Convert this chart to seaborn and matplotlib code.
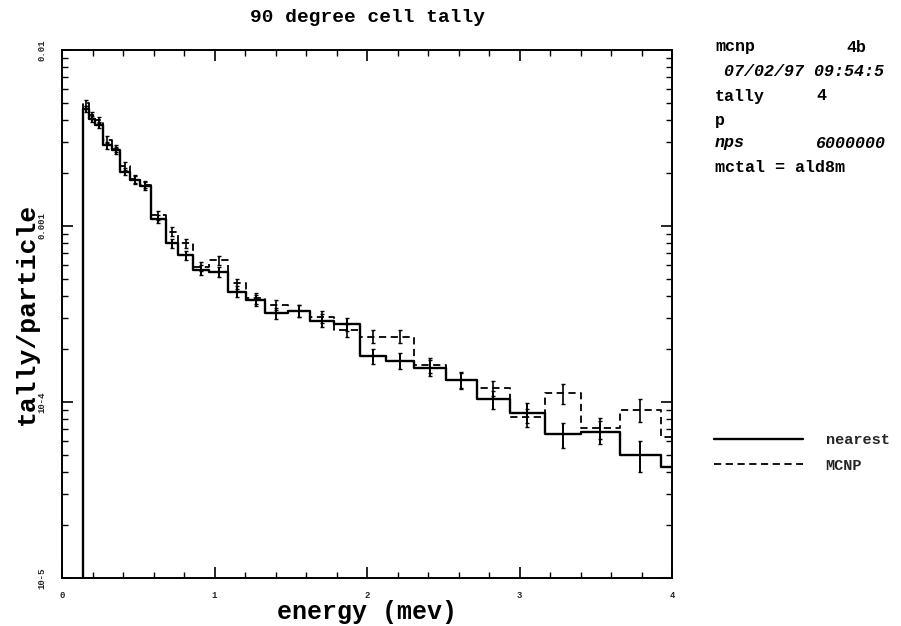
import numpy as np
import pandas as pd
import matplotlib
matplotlib.use("Agg")
import matplotlib.pyplot as plt
import seaborn as sns
from matplotlib.ticker import FixedLocator, FixedFormatter, LogLocator, MultipleLocator, NullFormatter

# ---------------- data ----------------
energy_edges = [0.0, 0.140, 0.179, 0.216, 0.267, 0.326, 0.380, 0.446, 0.511,
                0.582, 0.682, 0.763, 0.861, 0.964, 1.089, 1.207, 1.331, 1.479,
                1.626, 1.784, 1.951, 2.125, 2.308, 2.518, 2.721, 2.938, 3.164,
                3.405, 3.656, 3.930, 4.20]

nearest = [0.0, 4.6e-3, 4.04e-3, 3.75e-3, 2.88e-3, 2.70e-3, 2.04e-3, 1.82e-3,
           1.69e-3, 1.10e-3, 7.98e-4, 6.84e-4, 5.62e-4, 5.50e-4, 4.24e-4,
           3.80e-4, 3.19e-4, 3.30e-4, 2.90e-4, 2.77e-4, 1.83e-4, 1.72e-4,
           1.57e-4, 1.33e-4, 1.035e-4, 8.7e-5, 6.55e-5, 6.78e-5, 5.0e-5, 4.25e-5]

mcnp = [0.0, 5.0e-3, 4.3e-3, 4.0e-3, 3.1e-3, 2.75e-3, 2.2e-3, 1.85e-3,
        1.72e-3, 1.15e-3, 9.3e-4, 7.98e-4, 5.88e-4, 6.41e-4, 4.72e-4,
        3.9e-4, 3.56e-4, 3.30e-4, 3.05e-4, 2.56e-4, 2.35e-4, 2.35e-4,
        1.62e-4, 1.33e-4, 1.20e-4, 8.2e-5, 1.12e-4, 7.14e-5, 9.0e-5, 6.3e-5]

nearest_relerr = [0.0, 0.04, 0.04, 0.04, 0.045, 0.045, 0.05, 0.05, 0.05, 0.055,
                  0.06, 0.06, 0.065, 0.065, 0.07, 0.07, 0.075, 0.08, 0.085,
                  0.09, 0.10, 0.10, 0.105, 0.11, 0.12, 0.13, 0.165, 0.15,
                  0.20, 0.18]
mcnp_relerr = [0.0, 0.04, 0.04, 0.04, 0.045, 0.045, 0.05, 0.05, 0.05, 0.055,
               0.055, 0.06, 0.06, 0.06, 0.065, 0.07, 0.07, 0.075, 0.08, 0.085,
               0.085, 0.085, 0.10, 0.10, 0.10, 0.12, 0.13, 0.14, 0.15, 0.16]

series_labels = ["nearest", "MCNP"]
x_ticks = [0, 1, 2, 3, 4]
x_tick_labels = ["0", "1", "2", "3", "4"]
y_ticks = [1e-5, 1e-4, 1e-3, 1e-2]
y_tick_labels = ["10-5", "10-4", "0.001", "0.01"]

info_lines = [("mcnp", "4b"), ("07/02/97 09:54:5", None), ("tally", "4"),
              ("p", None), ("nps", "6000000"), ("mctal = ald8m", None)]

# ---------------- build table ----------------
edges = np.array(energy_edges)
centers = 0.5 * (edges[:-1] + edges[1:])
df = pd.DataFrame({"energy": centers, "nearest": nearest, "mcnp": mcnp,
                   "nearest_err": np.array(nearest) * np.array(nearest_relerr),
                   "mcnp_err": np.array(mcnp) * np.array(mcnp_relerr)})

# ---------------- style ----------------
sns.set_theme(style="ticks")
plt.rcParams['font.family'] = ['Liberation Mono', 'DejaVu Sans Mono']
plt.rcParams['font.weight'] = 'bold'
plt.rcParams['axes.linewidth'] = 1.4

W, H = 901, 626
fig = plt.figure(figsize=(W / 100, H / 100), dpi=100)
ax = fig.add_axes([62 / W, 48 / H, 610 / W, 528 / H])

sns.histplot(data=df, x="energy", weights="nearest", bins=list(energy_edges), element="step",
             fill=False, color="black", linewidth=1.7, ax=ax, label=series_labels[0])
sns.histplot(data=df, x="energy", weights="mcnp", bins=list(energy_edges), element="step",
             fill=False, color="black", linewidth=1.3, linestyle=(0, (4, 2.5)),
             ax=ax, label=series_labels[1])

pts = df[df["nearest"] > 0]
ax.errorbar(pts["energy"], pts["nearest"], yerr=pts["nearest_err"], fmt="none",
            ecolor="black", elinewidth=1.4, capsize=1.5, capthick=1.0)
ax.errorbar(pts["energy"], pts["mcnp"], yerr=pts["mcnp_err"], fmt="none",
            ecolor="black", elinewidth=1.2, capsize=1.5, capthick=1.0)

ax.set_yscale("log")
ax.set_xlim(0, 4)
ax.set_ylim(1e-5, 1e-2)

ax.xaxis.set_major_locator(FixedLocator(x_ticks))
ax.xaxis.set_major_formatter(FixedFormatter(x_tick_labels))
ax.xaxis.set_minor_locator(MultipleLocator(0.2))
ax.yaxis.set_major_locator(FixedLocator(y_ticks))
ax.yaxis.set_major_formatter(FixedFormatter(y_tick_labels))
ax.yaxis.set_minor_locator(LogLocator(base=10, subs=np.arange(2, 10)))
ax.yaxis.set_minor_formatter(NullFormatter())

ax.tick_params(which="both", direction="in", top=True, right=True, color="black")
ax.tick_params(which="major", length=8, width=1.2)
ax.tick_params(which="minor", length=4, width=1.0)
ax.tick_params(axis="x", which="major", labelsize=6.5, pad=9.5)
ax.tick_params(axis="y", which="major", labelsize=6.5, pad=11, labelrotation=90)
for lab in ax.get_yticklabels():
    lab.set_va("center")
for sp in ax.spines.values():
    sp.set_color("black")
    sp.set_visible(True)

ax.set_xlabel("energy (mev)", fontsize=18, fontweight="bold", color="black")
ax.set_ylabel("tally/particle", fontsize=19, fontweight="bold", color="black")
ax.xaxis.label.set_va("center")
ax.yaxis.label.set_va("center")
ax.xaxis.set_label_coords(0.5, (578 - 612) / 528)
ax.yaxis.set_label_coords((27 - 62) / 610, 0.5)

fig.text(367 / W, 1 - 18 / H, "90 degree cell tally", ha="center", va="center",
         fontsize=14, fontweight="bold", color="black")

# info block on the right
ys = [47, 71, 96, 120, 143, 167]
for (left, right), yy in zip(info_lines, ys):
    style = "italic" if left in ("nps",) or left.startswith("07") else "normal"
    xl = 724 if left.startswith("07") else 715
    fig.text(xl / W, 1 - yy / H, left, ha="left", va="center", fontsize=12,
             fontweight="bold", fontstyle=style, color="black")
    if right is not None:
        xr = 846 if left == "mcnp" else 816
        rstyle = "italic" if left == "nps" else "normal"
        fig.text(xr / W, 1 - yy / H, right, ha="left", va="center", fontsize=12,
                 fontweight="bold", fontstyle=rstyle, color="black")

handles = ax.get_lines()[:2]
leg = ax.legend(handles=handles, labels=series_labels, loc="center left",
                bbox_to_anchor=((714 - 62) / 610, (578 - 453) / 528),
                frameon=False, fontsize=11, handlelength=5.8, handletextpad=1.5,
                labelspacing=0.75, borderpad=0, borderaxespad=0)
for t in leg.get_texts():
    t.set_fontweight("bold")

fig.savefig("out.png", dpi=100, facecolor="white")
